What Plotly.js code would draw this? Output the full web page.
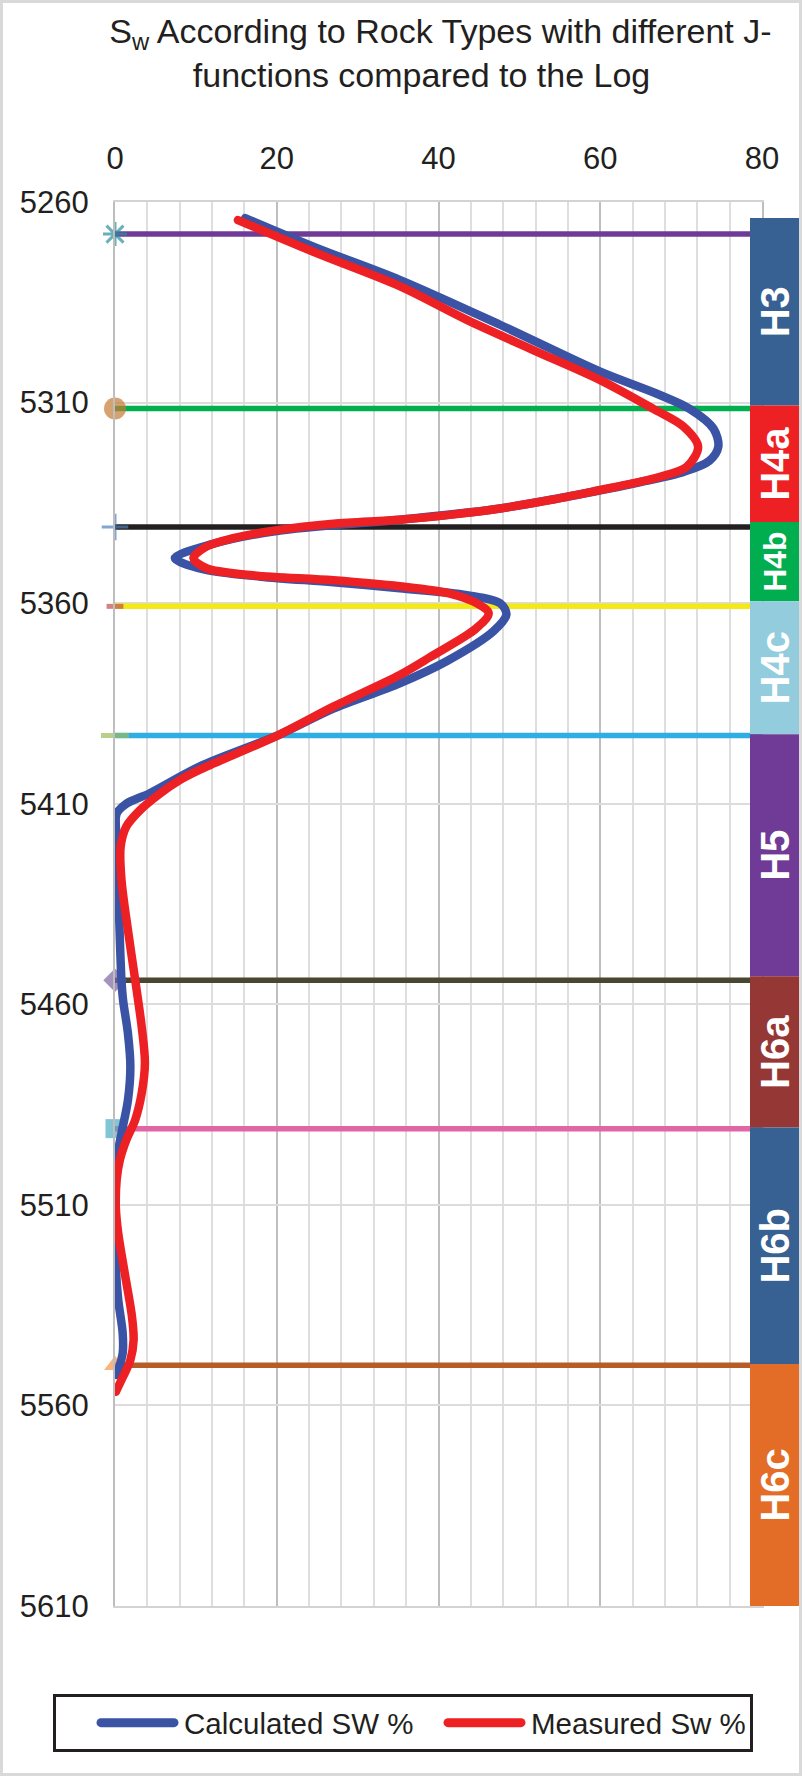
<!DOCTYPE html>
<html><head><meta charset="utf-8">
<script src="https://cdn.plot.ly/plotly-3.0.1.min.js"></script>
<style>
html,body{margin:0;padding:0;background:#fff;}
#wrap{position:relative;width:802px;height:1776px;}
#chart{width:802px;height:1776px;}
#frame{position:absolute;left:0;top:0;width:802px;height:1776px;box-sizing:border-box;border:3px solid #d9d9d9;pointer-events:none;}
.tracecalc .js-line, .tracemeas .js-line, .legend .js-line {stroke-linecap:round;stroke-linejoin:round;}
</style></head><body>
<div id="wrap"><div id="chart"></div><div id="frame"></div></div>
<script>
// ---- data ----
const zoneNames = ['H3','H4a','H4b','H4c','H5','H6a','H6b','H6c'];
const zoneLineDepths = [5268, 5311.5, 5341, 5360.8, 5393, 5454, 5491, 5550];
const zoneBarTops = [5264, 5310.7, 5339.8, 5359.5, 5392.7, 5453, 5490.7, 5549.7];
const zoneBarBottom = 5610;
const zoneLineColors = ['#703b96','#00b04f','#231f20','#f4e916','#2eaee3','#4b4630','#e066a6','#b85c27'];
const zoneBarColors = ['#376192','#ed2024','#00ad4f','#93cddd','#703b96','#953735','#376192','#e36c26'];
const zoneLabelSizes = [40, 40, 32, 40, 40, 40, 40, 40];
const zoneMarkerSymbols = ['asterisk-open','circle','cross-thin-open','line-ew-open','line-ew-open','diamond','square','triangle-up'];
const zoneMarkerColors = ['#2b8d9e','#c57b35','#4f81bd','#c0504d','#9bbb59','#8064a2','#4bacc6','#f79646'];
const zoneMarkerSizes = [20, 22, 19, 12, 20, 18, 19, 19];

const calcSw = [16.1,25,35.2,47.6,60,67,71,74,74.6,73.5,70.3,65,60,47.6,35.2,20,12,7.4,11,18,27,35.2,43.5,47.6,48.4,46.8,41,35.2,27,20.2,10.5,4.3,1.4,0.2,0.3,0.5,0.8,1.0,1.6,1.9,1.6,0.8,0.2,0.1,0.1,0.4,0.95,0.95,0.2];
const calcDepth = [5264,5271.5,5279.4,5290.6,5302.3,5307.8,5311.5,5316.5,5321,5324.5,5327.3,5329.8,5331.9,5336.4,5339.2,5342,5345.3,5348.8,5351.6,5353.4,5354.8,5356.3,5358,5360,5362.8,5367,5374.5,5380,5386.3,5392.9,5400.7,5407.4,5410,5412.5,5420.7,5437.3,5454,5459,5467.3,5475.6,5483.9,5492.2,5498.8,5508.8,5525.4,5533.7,5542,5547,5552.4];

const measSw = [15.2,25,35.2,43.5,51.7,60,66.5,70.3,72.1,70.7,67.4,64.1,60,53.8,47.6,41.4,35.2,27,20,14.6,11.3,9.7,11.3,16.7,27,35.2,41.4,44.7,46.2,44.6,39,35.2,27,20.2,10.5,8,5.6,3.1,1.4,0.7,0.8,1.6,2.5,3.3,3.7,3.3,2.5,1.4,0.6,0.2,0.1,0.4,1.2,2.1,2.3,1.9,1.0,0.1];
const measDepth = [5264.5,5272.8,5281,5289.4,5296.9,5304.4,5311.5,5316,5321,5326,5328.5,5330.1,5331.8,5334.3,5336.4,5338,5339.2,5340.2,5341.8,5343.8,5345.9,5348.8,5351.3,5353,5354.3,5355.8,5357.6,5360,5362.5,5366.4,5373.4,5377.9,5385.8,5392.9,5401.5,5404.1,5407.4,5411.6,5415.7,5420.7,5429,5441.5,5454,5465.6,5474.7,5482.2,5488.8,5493.8,5498.8,5503.8,5510.5,5517.1,5527,5537.9,5543.7,5548.7,5552.8,5556.6];

const xTicks = [0,20,40,60,80];
const xRange = [0,80];
const yRange = [5610,5260];
const titleText = '&nbsp;&nbsp;S<sub>w</sub> According to Rock Types with different J-<br>functions compared to the Log&nbsp;&nbsp;';
const seriesNames = ['Calculated SW %','Measured Sw %'];

const FONT = 'Liberation Sans, Arial, Helvetica, sans-serif';

// ---- traces ----
const traces = [];
zoneLineDepths.forEach((d,i)=>{
  traces.push({x:[xRange[0],xRange[1]], y:[d,d], mode:'lines', line:{color:zoneLineColors[i], width:5.5}, showlegend:false, hoverinfo:'skip'});
});
traces.push({
  x: zoneLineDepths.map(()=>0), y: zoneLineDepths, mode:'markers', showlegend:false, cliponaxis:false, hoverinfo:'skip',
  marker:{symbol:zoneMarkerSymbols, size:zoneMarkerSizes, color:zoneMarkerColors,
    line:{color:zoneMarkerColors, width:zoneMarkerSymbols.map(s=>s.startsWith('line')?5:(s.endsWith('open')?3:0))}}
});
traces.push({x:calcSw, y:calcDepth, name:seriesNames[0], uid:'calc', mode:'lines', line:{color:'#3a53a4', width:8.5, shape:'spline', smoothing:0.9}, cliponaxis:false});
traces.push({x:measSw, y:measDepth, name:seriesNames[1], uid:'meas', mode:'lines', line:{color:'#ed2024', width:8.5, shape:'spline', smoothing:0.9}, cliponaxis:false});

// zone bars (rock types) drawn as a bar trace on a side axis
traces.push({
  type:'bar', xaxis:'x2', yaxis:'y2', x: zoneNames.map(()=>0.5), width: zoneNames.map(()=>1),
  base: zoneBarTops,
  y: zoneBarTops.map((t,i)=> (i<zoneBarTops.length-1 ? zoneBarTops[i+1] : zoneBarBottom) - t),
  marker:{color:zoneBarColors, line:{width:0}},
  text: zoneNames, textposition:'inside', insidetextanchor:'middle', textangle:-90, constraintext:'none',
  textfont:{family:FONT, size:zoneLabelSizes, color:'#ffffff', weight:'bold'},
  showlegend:false, hoverinfo:'skip'
});

const plotW = 800-115;
const layout = {
  width:802, height:1776,
  margin:{l:115, r:2, t:202, b:170},
  paper_bgcolor:'#fff', plot_bgcolor:'rgba(0,0,0,0)',
  barmode:'overlay',
  font:{family:FONT, size:31, color:'#231f20'},
  title:{text:titleText, x:431/802, xanchor:'center', y:0.976, yanchor:'top', font:{size:34, color:'#231f20'}},
  xaxis:{domain:[0, 647/plotW], side:'top', range:xRange, tickvals:xTicks, showgrid:true, gridcolor:'#bebebe', gridwidth:2,
    minor:{dtick:4, tick0:0, showgrid:true, gridcolor:'#dedede', gridwidth:2},
    zeroline:false, showline:true, linecolor:'#d3d3d3', linewidth:2, mirror:true, ticks:'', ticklabelstandoff:19, fixedrange:true},
  yaxis:{range:yRange, tick0:5260, dtick:50, showgrid:true, gridcolor:'#dcdcdc', gridwidth:2,
    zeroline:false, showline:true, linecolor:'#bebebe', linewidth:2, mirror:true, ticks:'', ticklabelstandoff:18, fixedrange:true},
  xaxis2:{domain:[635/plotW, 1], range:[0,1], anchor:'y2', visible:false, fixedrange:true},
  yaxis2:{range:yRange, anchor:'x2', visible:false, fixedrange:true},
  showlegend:true,
  legend:{orientation:'h', x:(53-115)/plotW, xanchor:'left', y:-(1694-1606)/1404, yanchor:'top',
    bordercolor:'#231f20', borderwidth:3, font:{size:29.5}, bgcolor:'#fff',
    itemwidth:78, indentation:40, entrywidth:214, traceorder:'normal'}
};
Plotly.newPlot('chart', traces, layout, {displayModeBar:false, staticPlot:true}).then(()=>{
  document.querySelectorAll('.legend .js-line').forEach(p=>{ p.setAttribute('d','M5,0h73'); p.style.strokeWidth='9px'; });
});
</script>
</body></html>
